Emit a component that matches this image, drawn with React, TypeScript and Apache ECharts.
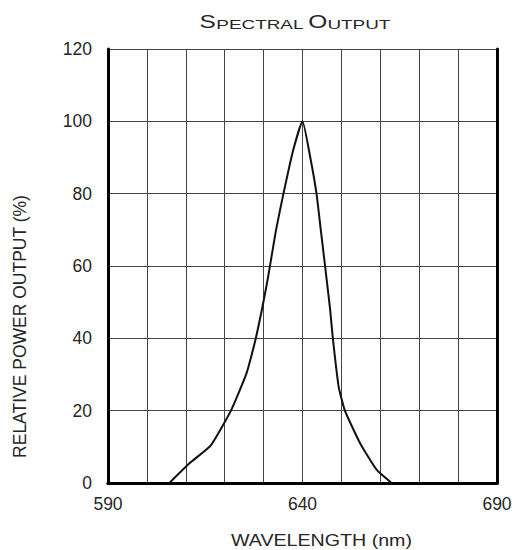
import React, { useEffect, useRef } from "react";
import * as echarts from "echarts";

const wavelengths = [605.8, 611, 616.5, 621.6, 625.6, 628.0, 631.0, 633.2, 635.1, 637.6, 640, 642.0, 643.6, 644.7, 645.8, 647.1, 647.8, 649.3, 650.9, 654.8, 659.1, 662.9];
const power = [0, 5.5, 10.5, 20, 30.3, 40, 56, 70, 80, 92, 100, 90, 80, 70, 60, 48, 40, 26.6, 20, 11, 3.6, 0];
const xLabelValues = [590, 640, 690];
const yTicks = [0, 20, 40, 60, 80, 100, 120];
const titleParts = ["S", "PECTRAL ", "O", "UTPUT"];
const xName = "WAVELENGTH (nm)";
const yName = "RELATIVE POWER OUTPUT (%)";

const FONT = "'Liberation Sans', Arial, sans-serif";
const TXT = "#262626";

export default function App() {
  const ref = useRef<HTMLDivElement>(null);
  useEffect(() => {
    if (!ref.current) return;
    const chart = echarts.init(ref.current, undefined, { renderer: "svg" });
    const data = wavelengths.map((w, i) => [w, power[i]]);
    chart.setOption({
      animation: false,
      backgroundColor: "#fff",
      grid: { left: 108, right: 20, top: 49, bottom: 67 },
      xAxis: [
        {
          type: "value",
          min: 590,
          max: 690,
          interval: 10,
          position: "bottom",
          axisLine: { show: true, lineStyle: { color: "#000", width: 3 } },
          axisTick: { show: false },
          splitLine: { show: true, lineStyle: { color: "#444", width: 1 } },
          axisLabel: {
            margin: 12,
            fontFamily: FONT,
            fontSize: 17.5,
            color: TXT,
            formatter: (v: number) => (xLabelValues.includes(v) ? String(v) : ""),
          },
        },
        {
          type: "value",
          min: 590,
          max: 690,
          position: "top",
          axisLine: { show: true, lineStyle: { color: "#000", width: 3 } },
          axisTick: { show: false },
          axisLabel: { show: false },
          splitLine: { show: false },
        },
      ],
      yAxis: [
        {
          type: "value",
          min: 0,
          max: 120,
          interval: 20,
          position: "left",
          axisLine: { show: true, lineStyle: { color: "#000", width: 3 } },
          axisTick: { show: false },
          splitLine: { show: true, lineStyle: { color: "#444", width: 1 } },
          axisLabel: {
            margin: 16,
            fontFamily: FONT,
            fontSize: 17.5,
            color: TXT,
            formatter: (v: number) => (yTicks.includes(v) ? String(v) : ""),
          },
        },
        {
          type: "value",
          min: 0,
          max: 120,
          position: "right",
          axisLine: { show: true, lineStyle: { color: "#000", width: 3 } },
          axisTick: { show: false },
          axisLabel: { show: false },
          splitLine: { show: false },
        },
      ],
      graphic: [
        {
          type: "text",
          x: 295,
          y: 22,
          scaleX: 1.4,
          style: {
            text: `{b|${titleParts[0]}}{s|${titleParts[1]}}{b|${titleParts[2]}}{s|${titleParts[3]}}`,
            align: "center",
            verticalAlign: "middle",
            fill: TXT,
            rich: {
              b: { fontFamily: FONT, fontSize: 17.5, fill: TXT, verticalAlign: "bottom", lineHeight: 18 },
              s: { fontFamily: FONT, fontSize: 13.5, fill: TXT, verticalAlign: "bottom", lineHeight: 18 },
            },
          },
        },
        {
          type: "text",
          x: 321.5,
          y: 541,
          scaleX: 1.19,
          style: {
            text: xName,
            fontFamily: FONT,
            fontSize: 16.5,
            fill: TXT,
            align: "center",
            verticalAlign: "middle",
          },
        },
        {
          type: "text",
          x: 19.7,
          y: 326.5,
          rotation: Math.PI / 2,
          style: {
            text: yName,
            fontFamily: FONT,
            fontSize: 17.5,
            fill: TXT,
            align: "center",
            verticalAlign: "middle",
          },
        },
      ],
      series: [
        {
          type: "line",
          data,
          showSymbol: false,
          smooth: 0.15,
          lineStyle: { color: "#111", width: 2 },
          z: 5,
        },
      ],
    });
    return () => chart.dispose();
  }, []);
  return (
    <div
      ref={ref}
      style={{ position: "fixed", left: 0, top: 0, width: 517, height: 550 }}
    />
  );
}
